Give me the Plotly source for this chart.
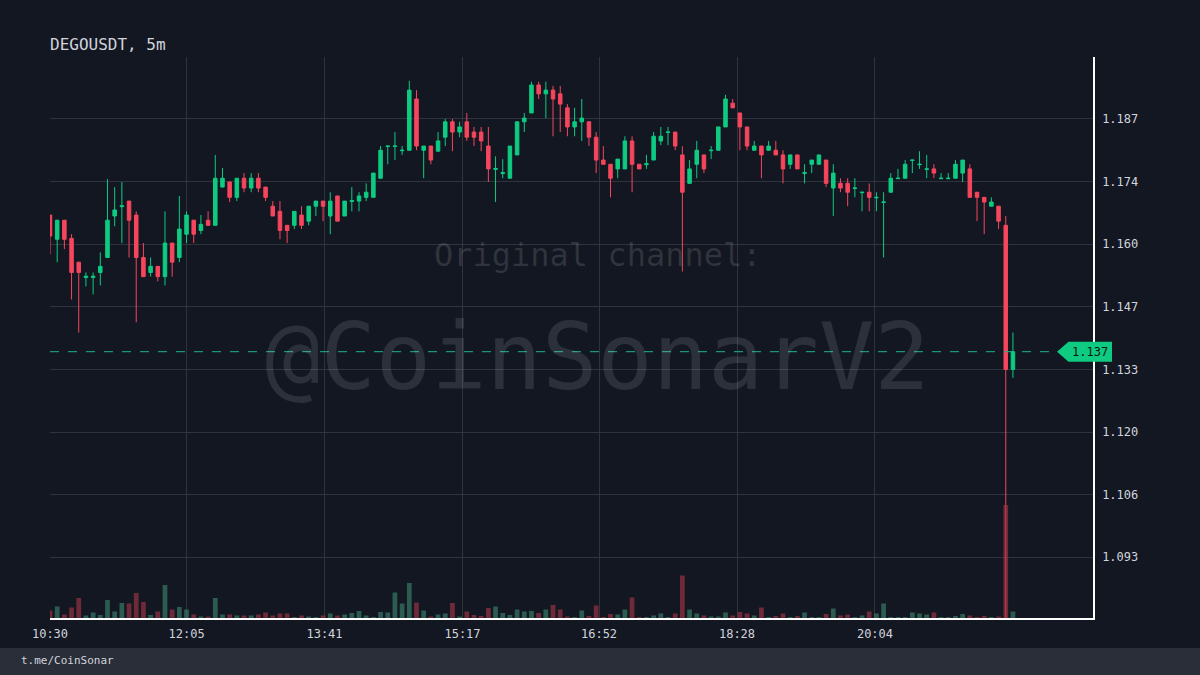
import pandas as pd
import plotly.graph_objects as go

chart_title = "DEGOUSDT, 5m"
footer_text = "t.me/CoinSonar"
watermark_top = "Original channel:"
watermark_main = "@CoinSonarV2"

# 5-minute candles starting 10:30
times = pd.date_range("2024-05-01 10:30", periods=135, freq="5min")

opens = [
    1.1664, 1.1612, 1.1653, 1.1614, 1.1563, 1.1530, 1.1530, 1.1541, 1.1573, 1.1662,
    1.1682, 1.1694, 1.1664, 1.1573, 1.1541, 1.1554, 1.1532, 1.1604, 1.1573, 1.1623,
    1.1653, 1.1631, 1.1653, 1.1642, 1.1724, 1.1735, 1.1702, 1.1743, 1.1722, 1.1743,
    1.1724, 1.1683, 1.1672, 1.1642, 1.1642, 1.1664, 1.1651, 1.1683, 1.1694, 1.1662,
    1.1705, 1.1662, 1.1693, 1.1694, 1.1702, 1.1702, 1.1743, 1.1811, 1.1811, 1.1802,
    1.1803, 1.1913, 1.1803, 1.1812, 1.1801, 1.1831, 1.1864, 1.1842, 1.1864, 1.1842,
    1.1842, 1.1812, 1.1762, 1.1753, 1.1743, 1.1793, 1.1864, 1.1883, 1.1943, 1.1924,
    1.1932, 1.1924, 1.1894, 1.1853, 1.1864, 1.1864, 1.1831, 1.1782, 1.1773, 1.1763,
    1.1763, 1.1823, 1.1773, 1.1772, 1.1782, 1.1823, 1.1841, 1.1842, 1.1793, 1.1732,
    1.1773, 1.1793, 1.1802, 1.1803, 1.1853, 1.1904, 1.1883, 1.1853, 1.1803, 1.1812,
    1.1803, 1.1803, 1.1793, 1.1773, 1.1793, 1.1753, 1.1773, 1.1773, 1.1782, 1.1722,
    1.1732, 1.1732, 1.1721, 1.1712, 1.1713, 1.1701, 1.1691, 1.1713, 1.1742, 1.1743,
    1.1781, 1.1772, 1.1762, 1.1763, 1.1742, 1.1742, 1.1743, 1.1754, 1.1763, 1.1713,
    1.1702, 1.1683, 1.1683, 1.1642, 1.1333,
]
highs = [
    1.1664, 1.1653, 1.1653, 1.1623, 1.1563, 1.1541, 1.1541, 1.1584, 1.1741, 1.1724,
    1.1735, 1.1694, 1.1672, 1.1604, 1.1573, 1.1554, 1.1672, 1.1604, 1.1705, 1.1672,
    1.1653, 1.1664, 1.1672, 1.1793, 1.1765, 1.1735, 1.1743, 1.1754, 1.1754, 1.1754,
    1.1724, 1.1694, 1.1694, 1.1642, 1.1672, 1.1683, 1.1683, 1.1694, 1.1694, 1.1713,
    1.1705, 1.1694, 1.1724, 1.1713, 1.1732, 1.1754, 1.1812, 1.1812, 1.1842, 1.1812,
    1.1952, 1.1932, 1.1812, 1.1812, 1.1842, 1.1870, 1.1870, 1.1864, 1.1883, 1.1853,
    1.1853, 1.1853, 1.1790, 1.1784, 1.1812, 1.1864, 1.1883, 1.1950, 1.1950, 1.1950,
    1.1941, 1.1941, 1.1902, 1.1894, 1.1913, 1.1864, 1.1842, 1.1812, 1.1773, 1.1784,
    1.1833, 1.1833, 1.1773, 1.1793, 1.1842, 1.1853, 1.1853, 1.1842, 1.1812, 1.1782,
    1.1823, 1.1793, 1.1812, 1.1853, 1.1922, 1.1913, 1.1883, 1.1853, 1.1823, 1.1812,
    1.1823, 1.1823, 1.1803, 1.1793, 1.1793, 1.1773, 1.1782, 1.1793, 1.1782, 1.1773,
    1.1743, 1.1743, 1.1743, 1.1713, 1.1732, 1.1713, 1.1713, 1.1754, 1.1763, 1.1782,
    1.1782, 1.1801, 1.1793, 1.1773, 1.1754, 1.1754, 1.1782, 1.1782, 1.1773, 1.1713,
    1.1702, 1.1702, 1.1683, 1.1662, 1.1412,
]
lows = [
    1.1580, 1.1563, 1.1591, 1.1483, 1.1412, 1.1511, 1.1494, 1.1513, 1.1573, 1.1640,
    1.1604, 1.1573, 1.1434, 1.1532, 1.1532, 1.1522, 1.1513, 1.1532, 1.1563, 1.1604,
    1.1604, 1.1623, 1.1642, 1.1642, 1.1724, 1.1692, 1.1694, 1.1713, 1.1713, 1.1713,
    1.1694, 1.1662, 1.1612, 1.1604, 1.1634, 1.1634, 1.1642, 1.1662, 1.1651, 1.1623,
    1.1651, 1.1662, 1.1672, 1.1672, 1.1694, 1.1702, 1.1743, 1.1773, 1.1782, 1.1793,
    1.1803, 1.1803, 1.1743, 1.1773, 1.1801, 1.1812, 1.1801, 1.1831, 1.1823, 1.1812,
    1.1801, 1.1735, 1.1692, 1.1743, 1.1743, 1.1793, 1.1842, 1.1883, 1.1913, 1.1872,
    1.1833, 1.1842, 1.1833, 1.1833, 1.1823, 1.1812, 1.1754, 1.1773, 1.1702, 1.1743,
    1.1763, 1.1713, 1.1763, 1.1763, 1.1782, 1.1814, 1.1814, 1.1803, 1.1543, 1.1732,
    1.1743, 1.1754, 1.1784, 1.1803, 1.1853, 1.1894, 1.1803, 1.1803, 1.1803, 1.1743,
    1.1803, 1.1793, 1.1732, 1.1763, 1.1763, 1.1732, 1.1754, 1.1773, 1.1724, 1.1662,
    1.1713, 1.1683, 1.1702, 1.1672, 1.1672, 1.1672, 1.1573, 1.1713, 1.1742, 1.1743,
    1.1754, 1.1763, 1.1743, 1.1743, 1.1742, 1.1742, 1.1743, 1.1735, 1.1702, 1.1651,
    1.1623, 1.1683, 1.1634, 1.0700, 1.1315,
]
closes = [
    1.1619, 1.1653, 1.1612, 1.1541, 1.1541, 1.1533, 1.1533, 1.1554, 1.1653, 1.1675,
    1.1684, 1.1653, 1.1573, 1.1532, 1.1554, 1.1532, 1.1604, 1.1563, 1.1634, 1.1664,
    1.1623, 1.1644, 1.1642, 1.1743, 1.1743, 1.1702, 1.1743, 1.1722, 1.1743, 1.1722,
    1.1702, 1.1662, 1.1631, 1.1631, 1.1672, 1.1642, 1.1683, 1.1694, 1.1683, 1.1694,
    1.1651, 1.1694, 1.1695, 1.1705, 1.1713, 1.1754, 1.1803, 1.1812, 1.1812, 1.1803,
    1.1932, 1.1812, 1.1812, 1.1782, 1.1823, 1.1864, 1.1842, 1.1853, 1.1831, 1.1831,
    1.1823, 1.1763, 1.1764, 1.1755, 1.1812, 1.1864, 1.1872, 1.1943, 1.1924, 1.1932,
    1.1913, 1.1902, 1.1853, 1.1864, 1.1872, 1.1831, 1.1782, 1.1773, 1.1743, 1.1784,
    1.1823, 1.1773, 1.1763, 1.1774, 1.1833, 1.1833, 1.1842, 1.1812, 1.1713, 1.1763,
    1.1803, 1.1763, 1.1803, 1.1853, 1.1913, 1.1894, 1.1853, 1.1812, 1.1812, 1.1793,
    1.1812, 1.1793, 1.1763, 1.1793, 1.1763, 1.1755, 1.1782, 1.1793, 1.1732, 1.1754,
    1.1722, 1.1713, 1.1722, 1.1713, 1.1702, 1.1702, 1.1692, 1.1743, 1.1743, 1.1773,
    1.1782, 1.1773, 1.1763, 1.1754, 1.1743, 1.1743, 1.1773, 1.1782, 1.1702, 1.1702,
    1.1692, 1.1692, 1.1651, 1.1333, 1.1371,
]
volumes_k = [
    15, 23, 7, 21, 40, 5, 11, 6, 36, 13,
    30, 29, 50, 32, 6, 13, 66, 17, 22, 17,
    7, 3, 3, 40, 7, 7, 5, 5, 5, 7,
    11, 5, 9, 9, 2, 5, 3, 2, 5, 9,
    5, 7, 10, 14, 5, 2, 12, 11, 51, 29,
    70, 31, 15, 3, 7, 9, 30, 3, 13, 6,
    4, 20, 23, 10, 6, 17, 13, 14, 10, 17,
    26, 17, 3, 2, 15, 4, 25, 2, 8, 7,
    17, 41, 2, 2, 5, 9, 2, 9, 85, 17,
    9, 5, 3, 3, 11, 5, 12, 9, 5, 21,
    2, 4, 9, 2, 4, 11, 2, 2, 8, 19,
    5, 7, 2, 5, 13, 9, 29, 2, 2, 2,
    11, 9, 7, 11, 2, 2, 4, 8, 5, 2,
    4, 2, 3, 226, 13,
]
time_ticks = ["2024-05-01 10:30", "2024-05-01 12:05", "2024-05-01 13:41",
              "2024-05-01 15:17", "2024-05-01 16:52", "2024-05-01 18:28",
              "2024-05-01 20:04"]
x_range = ["2024-05-01 10:30:00", "2024-05-01 22:35:42"]
price_range = [1.07999, 1.2003]
price_tick0 = 1.09301
price_dtick = 0.01343
volume_range = [0, 1122]

last_price = closes[-1]

BG = "#131722"
GRID = "#2f333e"
TXT = "#d1d4dc"
UP = "#0ecb81"
DOWN = "#f6465d"
VOL_UP = "rgba(62,136,114,0.6)"
VOL_DOWN = "rgba(171,55,74,0.6)"
MONO = "DejaVu Sans Mono"

fig = go.Figure()
fig.add_trace(go.Candlestick(
    x=times, open=opens, high=highs, low=lows, close=closes,
    increasing=dict(line=dict(color=UP, width=1), fillcolor=UP),
    decreasing=dict(line=dict(color=DOWN, width=1), fillcolor=DOWN),
    whiskerwidth=0, showlegend=False, name="DEGOUSDT",
))
vol_colors = [VOL_UP if c > o else VOL_DOWN for o, c in zip(opens, closes)]
fig.add_trace(go.Bar(
    x=times, y=volumes_k, yaxis="y2", width=5 * 60 * 1000 * 0.66,
    marker=dict(color=vol_colors, line=dict(width=0)), showlegend=False, name="Volume",
))

axis_font = dict(family=MONO, size=12, color=TXT)
fig.update_layout(
    width=1200, height=675,
    paper_bgcolor=BG, plot_bgcolor=BG,
    margin=dict(l=50, r=107, t=57, b=57),
    showlegend=False,
    xaxis=dict(
        type="date", range=x_range, tickvals=time_ticks, tickformat="%H:%M",
        showgrid=True, gridcolor=GRID, gridwidth=1,
        showline=True, linecolor="#ffffff", linewidth=1.5,
        zeroline=False, ticks="", tickfont=axis_font, ticklabelstandoff=4,
        rangeslider=dict(visible=False), fixedrange=True,
    ),
    yaxis=dict(
        side="right", range=price_range, tick0=price_tick0, dtick=price_dtick,
        tickformat=".3f", showgrid=True, gridcolor=GRID, gridwidth=1,
        showline=True, linecolor="#ffffff", linewidth=1.5,
        zeroline=False, ticks="", tickfont=axis_font, ticklabelstandoff=5,
        fixedrange=True,
    ),
    yaxis2=dict(overlaying="y", range=volume_range, visible=False, fixedrange=True),
)

# footer band
fig.add_shape(type="rect", xref="paper", yref="paper",
              x0=-0.05, x1=1.11, y0=-0.1016, y1=-0.0535,
              fillcolor="#2a2e39", line=dict(width=0), layer="below")

# current price line and tag
fig.add_shape(type="line", xref="paper", yref="y", x0=0, x1=0.9655,
              y0=last_price, y1=last_price,
              line=dict(color="#20b488", width=1, dash="dash"))
half_h = 0.00215
tag_path = (f"M 0.9655 {last_price} L 0.9765 {last_price + half_h} "
            f"L 1.0182 {last_price + half_h} L 1.0182 {last_price - half_h} "
            f"L 0.9765 {last_price - half_h} Z")
fig.add_shape(type="path", xref="paper", yref="y", path=tag_path,
              fillcolor=UP, line=dict(width=0), layer="above")

annotations = [
    dict(text=chart_title, x=-0.002, y=1.0214, xref="paper", yref="paper",
         xanchor="left", yanchor="middle", showarrow=False,
         font=dict(family=MONO, size=16, color=TXT)),
    dict(text=f"{last_price:.3f}", x=0.9975, y=last_price, xref="paper", yref="y",
         xanchor="center", yanchor="middle", showarrow=False,
         font=dict(family=MONO, size=12, color="#0b1a14")),
    dict(text=watermark_top, x=0.5254, y=0.647, xref="paper", yref="paper",
         xanchor="center", yanchor="middle", showarrow=False,
         font=dict(family=MONO, size=32, color="rgba(255,255,255,0.12)")),
    dict(text=watermark_main, x=0.5254, y=0.465, xref="paper", yref="paper",
         xanchor="center", yanchor="middle", showarrow=False,
         font=dict(family=MONO, size=92, color="rgba(255,255,255,0.11)")),
    dict(text=footer_text, x=-0.0295, y=-0.0766, xref="paper", yref="paper",
         xanchor="left", yanchor="middle", showarrow=False,
         font=dict(family=MONO, size=11, color=TXT)),
]
fig.update_layout(annotations=annotations)

fig.write_html("out.html", config={"displayModeBar": False})

# remove the default page margin so the figure sits at the window origin
with open("out.html", "r", encoding="utf-8") as f:
    html = f.read()
html = html.replace("<head>", "<head><style>html,body{margin:0;padding:0;background:#131722;}</style>", 1)
with open("out.html", "w", encoding="utf-8") as f:
    f.write(html)
